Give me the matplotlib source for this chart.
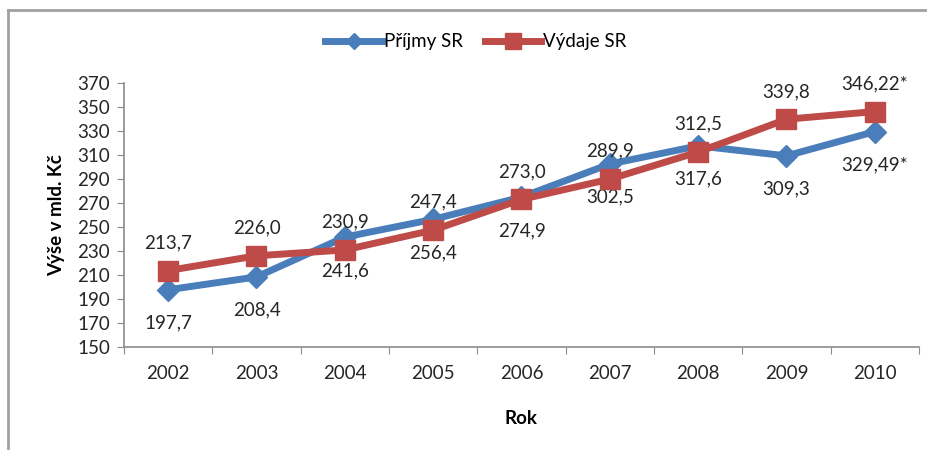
import matplotlib.pyplot as plt
from matplotlib.lines import Line2D

years = ["2002", "2003", "2004", "2005", "2006", "2007", "2008", "2009", "2010"]
prijmy = [197.7, 208.4, 241.6, 256.4, 274.9, 302.5, 317.6, 309.3, 329.49]
vydaje = [213.7, 226.0, 230.9, 247.4, 273.0, 289.9, 312.5, 339.8, 346.22]
prijmy_labels = ["197,7", "208,4", "241,6", "256,4", "274,9", "302,5", "317,6", "309,3", "329,49*"]
vydaje_labels = ["213,7", "226,0", "230,9", "247,4", "273,0", "289,9", "312,5", "339,8", "346,22*"]

blue = "#4a7ebb"
red = "#be4b48"
grey = "#8c8c8c"
text_c = "#262626"
fs = 13.5

plt.rcParams["font.family"] = ["Lato", "DejaVu Sans"]
plt.rcParams["font.size"] = fs

fig = plt.figure(figsize=(9.28, 4.5), dpi=100)
ax = fig.add_axes([124 / 928, 1 - 347 / 450, (919 - 124) / 928, (347 - 83) / 450])

x = list(range(len(years)))
ax.plot(x, prijmy, color=blue, lw=5, marker="D", ms=11, zorder=3)
ax.plot(x, vydaje, color=red, lw=5, marker="s", ms=14, zorder=4)

for i in x:
    ax.annotate(vydaje_labels[i], (i, vydaje[i]), xytext=(0, 20), textcoords="offset points",
                ha="center", va="center", color=text_c, fontsize=fs)
    ax.annotate(prijmy_labels[i], (i, prijmy[i]), xytext=(0, -24), textcoords="offset points",
                ha="center", va="center", color=text_c, fontsize=fs)

ax.set_xlim(-0.5, len(years) - 0.5)
ax.set_ylim(150, 370)
ax.set_yticks(range(150, 371, 20))
ax.set_xticks([i - 0.5 for i in range(len(years) + 1)])
ax.set_xticklabels([])
ax.set_xticks(x, minor=True)
ax.set_xticklabels(years, minor=True)
ax.tick_params(axis="x", which="minor", length=0, pad=13, labelsize=fs, colors=text_c)
ax.tick_params(axis="x", which="major", length=5, color=grey, direction="out")
ax.tick_params(axis="y", length=5, color=grey, labelsize=fs, labelcolor=text_c, pad=5)

for s in ["top", "right"]:
    ax.spines[s].set_visible(False)
for s in ["left", "bottom"]:
    ax.spines[s].set_color(grey)
    ax.spines[s].set_linewidth(1.2)

ax.set_ylabel("Výše v mld. Kč", fontweight="bold", fontsize=fs, color="black", labelpad=9)
ax.set_xlabel("Rok", fontweight="bold", fontsize=fs, color="black", labelpad=20)

handles = [
    Line2D([], [], color=blue, lw=5, marker="D", ms=8),
    Line2D([], [], color=red, lw=5, marker="s", ms=11),
]
fig.legend(handles, ["Příjmy SR", "Výdaje SR"], loc="center", bbox_to_anchor=(476 / 928, 1 - 42 / 450),
           ncol=2, frameon=False, handlelength=3.0, handletextpad=0.1, columnspacing=1.2, fontsize=fs)

# chart frame (only top and left edges are visible)
fig.add_artist(Line2D([8 / 928, 8 / 928], [0, 1 - 10 / 450], color="#a0a0a0", lw=2, transform=fig.transFigure))
fig.add_artist(Line2D([8 / 928, 1], [1 - 10 / 450, 1 - 10 / 450], color="#a0a0a0", lw=2, transform=fig.transFigure))

fig.savefig("out.png", dpi=100)
